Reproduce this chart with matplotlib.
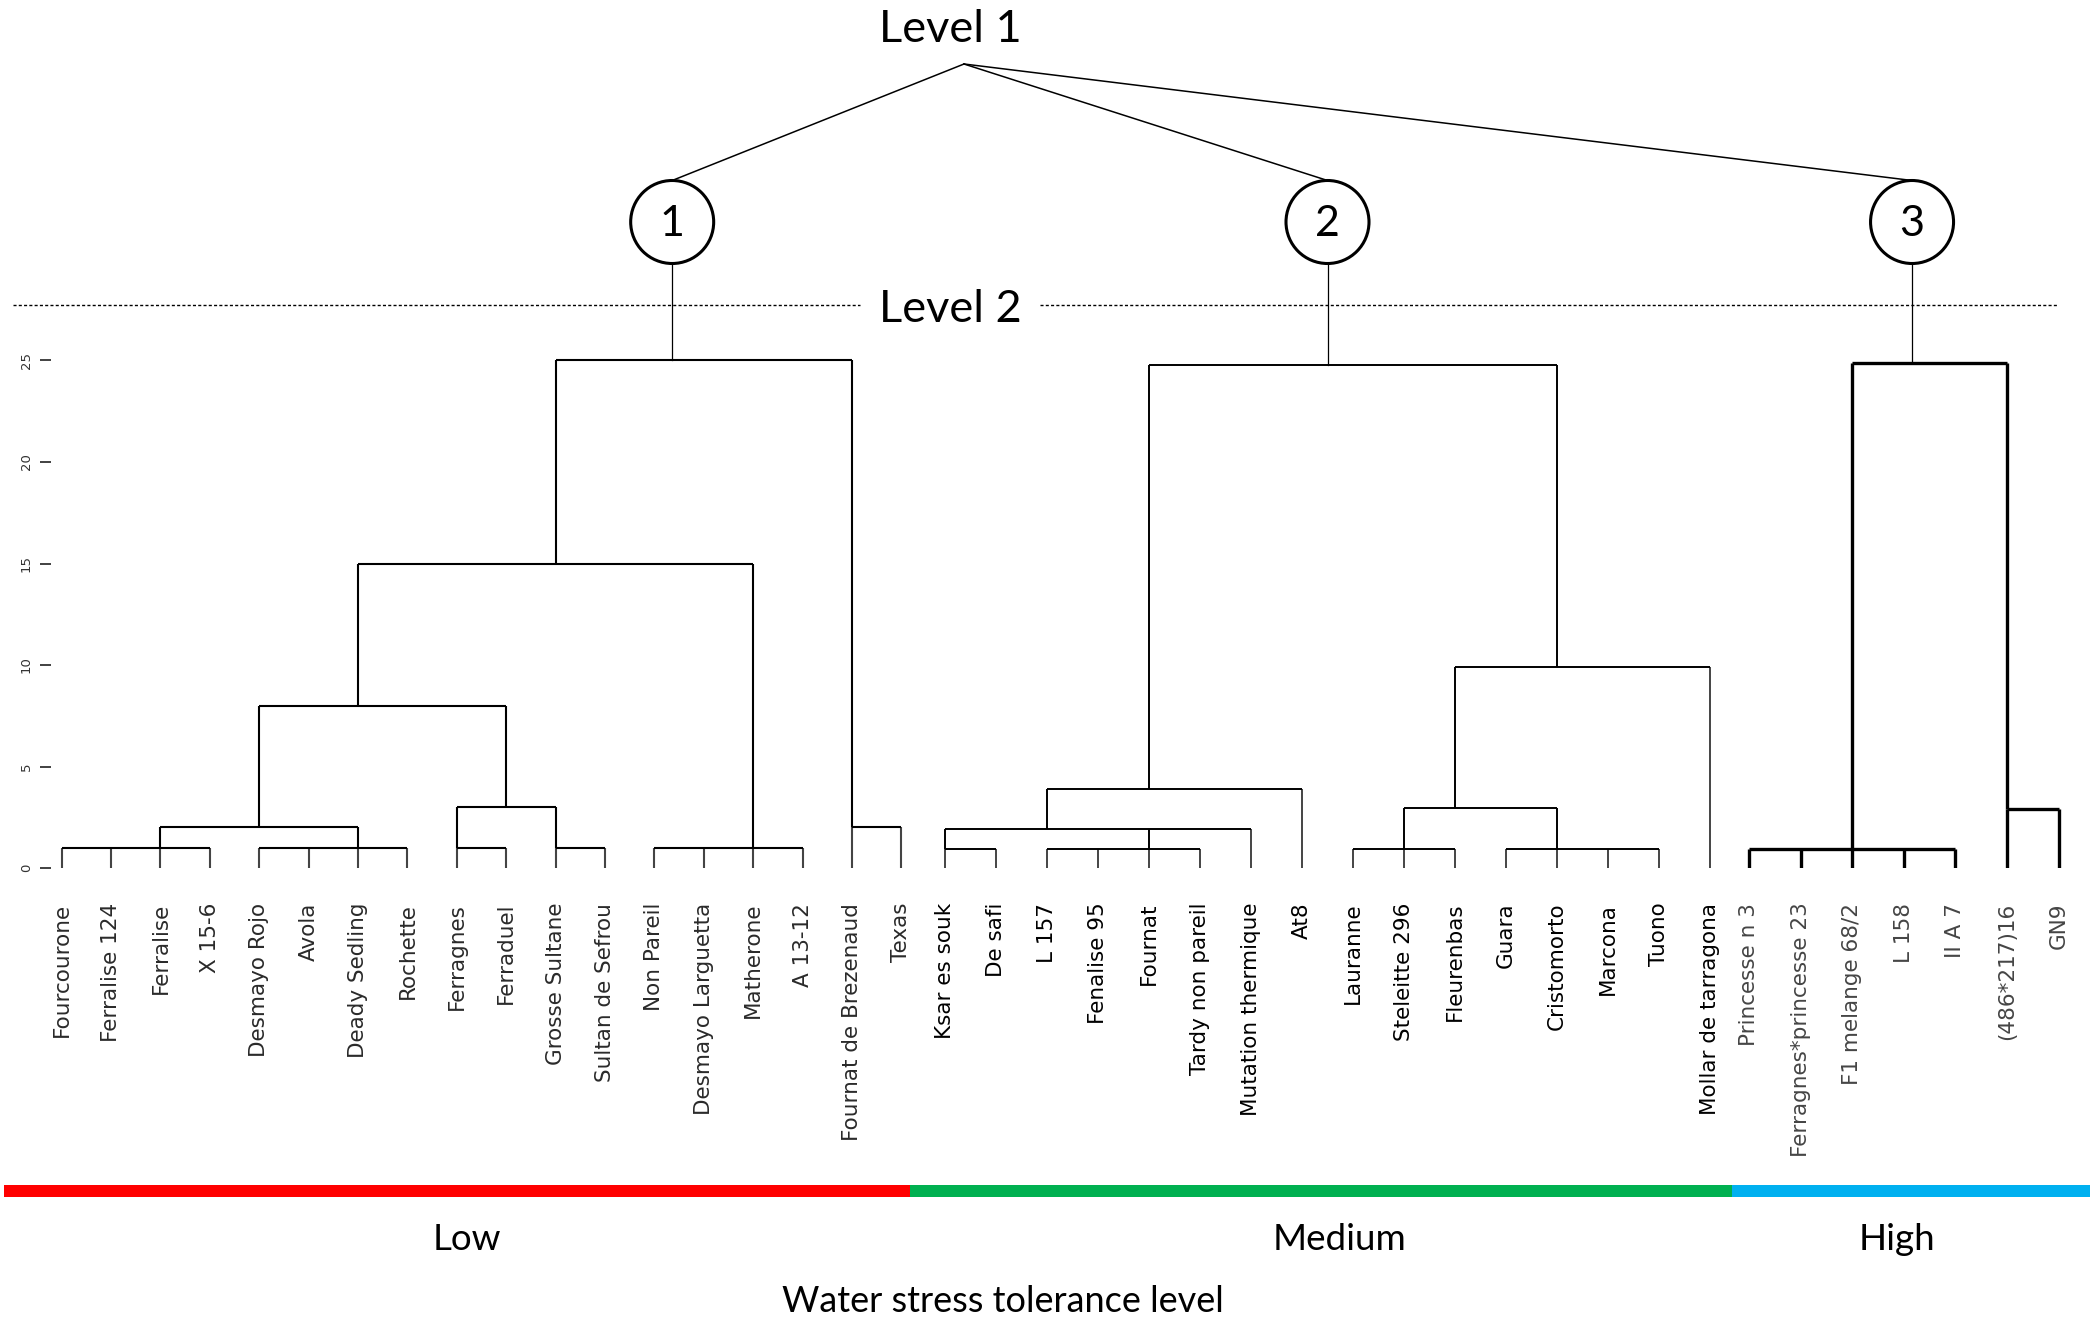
#!/usr/bin/env python3
# almond_dendrogram.py

import matplotlib
matplotlib.use("Agg")
import matplotlib.pyplot as plt
from matplotlib.patches import Circle, Rectangle

W, H = 2100, 1317

low_labels = ["Fourcourone", "Ferralise 124", "Ferralise", "X 15-6",
              "Desmayo Rojo", "Avola", "Deady Sedling", "Rochette",
              "Ferragnes", "Ferraduel", "Grosse Sultane", "Sultan de Sefrou",
              "Non Pareil", "Desmayo Larguetta", "Matherone", "A 13-12",
              "Fournat de Brezenaud", "Texas"]
medium_labels = ["Ksar es souk", "De safi", "L 157", "Fenalise 95", "Fournat",
                 "Tardy non pareil", "Mutation thermique", "At8", "Lauranne",
                 "Steleitte 296", "Fleurenbas", "Guara", "Cristomorto",
                 "Marcona", "Tuono", "Mollar de tarragona"]
high_labels = ["Princesse n 3", "Ferragnes*princesse 23", "F1 melange 68/2",
               "L 158", "II A 7", "(486*217)16", "GN9"]

# merges: (node, height, children (leaf index or node), leaf position of the stem)
low_merges = [
    ("a", 1, [0, 1, 2, 3], 2),
    ("b", 1, [4, 5, 6, 7], 6),
    ("ab", 2, ["a", "b"], 4),
    ("c1", 1, [8, 9], 8),
    ("c2", 1, [10, 11], 10),
    ("c", 3, ["c1", "c2"], 9),
    ("abc", 8, ["ab", "c"], 6),
    ("d", 1, [12, 13, 14, 15], 14),
    ("abcd", 15, ["abc", "d"], 10),
    ("e", 2, [16, 17], 16),
    ("root", 25, ["abcd", "e"], 12.36),
]
medium_merges = [
    ("m1", 0.95, [0, 1], 0),
    ("m2", 0.95, [2, 3, 4, 5], 4),
    ("m3", 1.9, ["m1", "m2", 6], 2),
    ("m4", 3.9, ["m3", 7], 4),
    ("m5", 0.95, [8, 9, 10], 9),
    ("m6", 0.95, [11, 12, 13, 14], 12),
    ("m7", 2.95, ["m5", "m6"], 10),
    ("m8", 9.9, ["m7", 15], 12),
    ("root", 24.8, ["m4", "m8"], 7.5),
]
high_merges = [
    ("h1", 0.93, [0, 1, 2, 3, 4], 2),
    ("h2", 2.9, [5, 6], 5),
    ("root", 24.9, ["h1", "h2"], 3.16),
]

levels = ["Low", "Medium", "High"]
level_colors = ["#FF0000", "#00B050", "#00B0F0"]
y_ticks = [0, 5, 10, 15, 20, 25]


def draw_tree(ax, merges, lw, leaf_color):
    pos = {}
    for name, h, kids, stem in merges:
        xs = []
        for k in kids:
            if isinstance(k, str):
                kx, kh = pos[k]
                col = "black"
            else:
                kx, kh = k, 0
                col = leaf_color
            ax.vlines(kx, kh, h, color=col, lw=lw)
            xs.append(kx)
        ax.hlines(h, min(xs), max(xs), color="black", lw=lw)
        pos[name] = (stem, h)
    return pos["root"]


def panel(fig, left_px, x0_px, dx, n, labels, label_color):
    y0_px, dy, ytop = 868, 20.3, 26
    xlo = (left_px - x0_px) / dx
    xhi = n - 0.5
    width = (xhi - xlo) * dx
    ax = fig.add_axes([left_px / W, (H - y0_px) / H, width / W, ytop * dy / H])
    ax.set_xlim(xlo, xhi)
    ax.set_ylim(0, ytop)
    ax.patch.set_visible(False)
    for s in ax.spines.values():
        s.set_visible(False)
    ax.set_xticks(range(n))
    ax.set_xticklabels(labels, rotation=90, fontsize=15.5, color=label_color,
                       family="DejaVu Sans")
    ax.tick_params(axis="x", length=0, pad=25)
    ax.set_yticks([])
    return ax


def main():
    fig = plt.figure(figsize=(W / 100, H / 100), dpi=100)
    fig.patch.set_facecolor("white")

    ax_low = panel(fig, 51, 61.6, 49.4, len(low_labels), low_labels, "#2a2a2a")
    ax_med = panel(fig, 922, 945, 51.0, len(medium_labels), medium_labels, "black")
    ax_high = panel(fig, 1728, 1749, 51.6, len(high_labels), high_labels, "#454545")

    ax_low.set_yticks(y_ticks)
    ax_low.set_yticklabels([str(t) for t in y_ticks], rotation=90, fontsize=9.5,
                           color="#333333", va="center")
    ax_low.tick_params(axis="y", length=8, width=1.3, pad=5, color="#333333")

    roots = [draw_tree(ax_low, low_merges, 1.5, "#444444"),
             draw_tree(ax_med, medium_merges, 1.4, "#444444"),
             draw_tree(ax_high, high_merges, 2.4, "black")]

    ov = fig.add_axes([0, 0, 1, 1])
    ov.set_xlim(0, W)
    ov.set_ylim(H, 0)
    ov.axis("off")
    ov.patch.set_visible(False)

    font = "Lato"
    apex = (964, 64)
    cy, r = 222, 41.5
    ov.text(950, 29, "Level 1", fontsize=32.5, family=font, ha="center", va="center")
    for ax, (sx, sh), num in zip([ax_low, ax_med, ax_high], roots, ["1", "2", "3"]):
        px, py = ov.transData.inverted().transform(ax.transData.transform((sx, sh)))
        ov.plot([apex[0], px], [apex[1], cy - r], color="black", lw=1.1)
        ov.add_patch(Circle((px, cy), r, fill=False, lw=2.2, ec="black"))
        ov.text(px, cy + 2, num, fontsize=31, family=font, ha="center", va="center")
        ov.plot([px, px], [cy + r, py], color="black", lw=0.9)

    dash = (0, (2.2, 1.6))
    ov.plot([13, 860], [305, 305], color="black", lw=1.0, linestyle=dash)
    ov.plot([1040, 2058], [305, 305], color="black", lw=1.0, linestyle=dash)
    ov.text(950, 309, "Level 2", fontsize=32.5, family=font, ha="center", va="center")

    bounds = [4, 910, 1732, 2090]
    text_x = [467, 1340, 1897]
    for i, (lev, col) in enumerate(zip(levels, level_colors)):
        ov.add_patch(Rectangle((bounds[i], 1185), bounds[i + 1] - bounds[i], 12,
                               color=col, lw=0))
        ov.text(text_x[i], 1240, lev, fontsize=26.5, family=font,
                ha="center", va="center")
    ov.text(1003, 1301, "Water stress tolerance level", fontsize=26, family=font,
            ha="center", va="center")

    fig.savefig("out.png", dpi=100)


if __name__ == "__main__":
    main()
